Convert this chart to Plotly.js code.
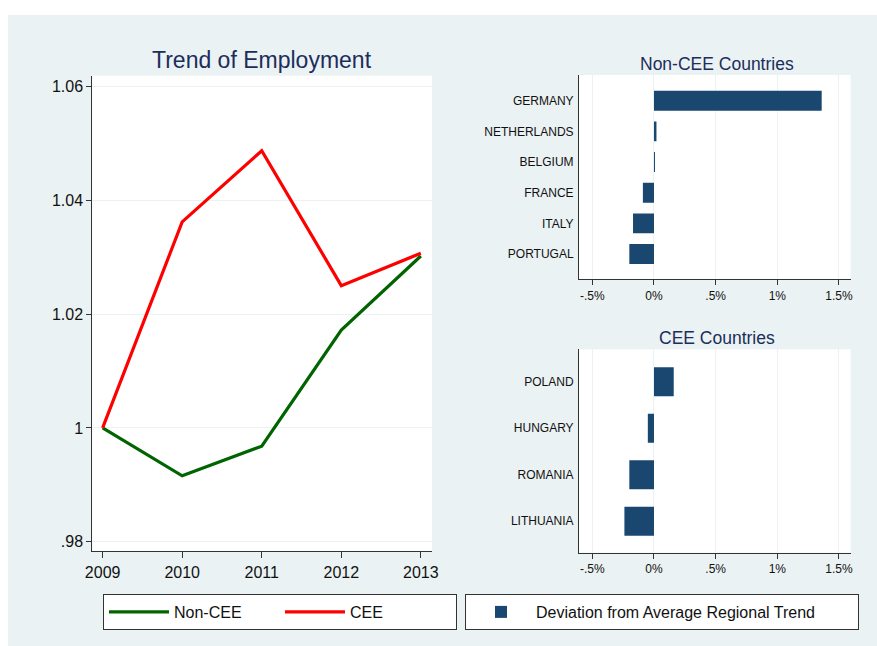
<!DOCTYPE html>
<html><head><meta charset="utf-8">
<script src="https://cdn.plot.ly/plotly-3.0.1.min.js"></script>
<style>html,body{margin:0;padding:0;background:#fff;width:877px;height:646px;overflow:hidden}
#chart{position:absolute;left:8px;top:15px;width:869px;height:631px}</style>
</head><body><div id="chart"></div>
<script>
// ---- data ----
const years = [2009, 2010, 2011, 2012, 2013];
const nonCEE = [1.0, 0.9916, 0.9968, 1.0172, 1.0302];
const cee = [1.0, 1.0362, 1.0487, 1.0250, 1.0307];
const nonCEECountries = ['GERMANY', 'NETHERLANDS', 'BELGIUM', 'FRANCE', 'ITALY', 'PORTUGAL'];
const nonCEEDeviation = [1.36, 0.02, 0.008, -0.09, -0.17, -0.20];
const ceeCountries = ['POLAND', 'HUNGARY', 'ROMANIA', 'LITHUANIA'];
const ceeDeviation = [0.16, -0.05, -0.20, -0.24];
const yTickVals = [0.98, 1, 1.02, 1.04, 1.06];
const yTickText = ['.98', '1', '1.02', '1.04', '1.06'];
const pctTickVals = [-0.5, 0, 0.5, 1, 1.5];
const pctTickText = ['-.5%', '0%', '.5%', '1%', '1.5%'];

const FONT = 'Liberation Sans, Arial, sans-serif';
const BG = '#eaf2f3';
const NAVY = '#1a476f';
const TITLE = '#1c2d5c';
const AXIS = '#333333';

const traces = [
  {x: years, y: nonCEE, type: 'scatter', mode: 'lines', name: 'Non-CEE',
   line: {color: '#006400', width: 3.2}, xaxis: 'x', yaxis: 'y', legend: 'legend'},
  {x: years, y: cee, type: 'scatter', mode: 'lines', name: 'CEE',
   line: {color: '#ff0000', width: 3.2}, xaxis: 'x', yaxis: 'y', legend: 'legend'},
  {x: nonCEEDeviation, y: nonCEECountries, type: 'bar', orientation: 'h',
   name: 'Deviation from Average Regional Trend', marker: {color: NAVY},
   width: 0.65, xaxis: 'x2', yaxis: 'y2', legend: 'legend2'},
  {x: ceeDeviation, y: ceeCountries, type: 'bar', orientation: 'h',
   name: 'Deviation from Average Regional Trend', marker: {color: NAVY},
   width: 0.62, xaxis: 'x3', yaxis: 'y3', showlegend: false, legend: 'legend2'}
];

const pctAxis = (anchor) => ({
  domain: [0.6571, 0.9697], anchor: anchor, range: [-0.608, 1.595],
  tickvals: pctTickVals, ticktext: pctTickText, ticks: 'outside', ticklen: 5,
  tickcolor: AXIS, showline: true, linecolor: AXIS, linewidth: 1,
  showgrid: true, gridcolor: BG, gridwidth: 1, zeroline: false,
  tickfont: {family: FONT, size: 12, color: '#111'}, fixedrange: true
});

const layout = {
  width: 869, height: 631,
  margin: {l: 0, r: 0, t: 0, b: 0},
  paper_bgcolor: BG, plot_bgcolor: '#ffffff',
  font: {family: FONT, color: '#111'},
  showlegend: true,
  xaxis: {domain: [0.0970, 0.4879], anchor: 'y', range: [2008.87, 2013.14],
    tickvals: years, ticks: 'outside', ticklen: 6, tickcolor: AXIS,
    showline: true, linecolor: AXIS, linewidth: 1, showgrid: false, zeroline: false,
    tickfont: {family: FONT, size: 16, color: '#111'}},
  yaxis: {domain: [0.1499, 0.9038], anchor: 'x', range: [0.97831, 1.06188],
    tickvals: yTickVals, ticktext: yTickText, ticks: 'outside', ticklen: 5, tickcolor: AXIS,
    showline: true, linecolor: AXIS, linewidth: 1, showgrid: true, gridcolor: BG, zeroline: false,
    tickfont: {family: FONT, size: 16, color: '#111'}},
  xaxis2: pctAxis('y2'),
  yaxis2: {domain: [0.5811, 0.9049], anchor: 'x2', type: 'category',
    categoryorder: 'array', categoryarray: nonCEECountries.slice().reverse(),
    range: [-0.825, 5.838], ticks: '', showline: true, linecolor: AXIS, linewidth: 1,
    showgrid: false, zeroline: false, ticklabelstandoff: 2,
    tickfont: {family: FONT, size: 12, color: '#111'}},
  xaxis3: pctAxis('y3'),
  yaxis3: {domain: [0.1479, 0.4702], anchor: 'x3', type: 'category',
    categoryorder: 'array', categoryarray: ceeCountries.slice().reverse(),
    range: [-0.675, 3.697], ticks: '', showline: true, linecolor: AXIS, linewidth: 1,
    showgrid: false, zeroline: false, ticklabelstandoff: 2,
    tickfont: {family: FONT, size: 12, color: '#111'}},
  legend: {x: 0.1093, y: 0.0824, xanchor: 'left', yanchor: 'top', orientation: 'h',
    bgcolor: '#ffffff', bordercolor: '#333', borderwidth: 1,
    font: {family: FONT, size: 16, color: '#111'}, entrywidth: 101, itemwidth: 60},
  legend2: {x: 0.5259, y: 0.0824, xanchor: 'left', yanchor: 'top', orientation: 'h',
    bgcolor: '#ffffff', bordercolor: '#333', borderwidth: 1,
    font: {family: FONT, size: 16, color: '#111'}, entrywidth: 317, itemwidth: 60},
  annotations: [
    {text: 'Trend of Employment', xref: 'paper', yref: 'paper', x: 0.2923, y: 0.9293,
     xanchor: 'center', yanchor: 'middle', showarrow: false,
     font: {family: FONT, size: 23, color: TITLE}},
    {text: 'Non-CEE Countries', xref: 'paper', yref: 'paper', x: 0.8159, y: 0.9223,
     xanchor: 'center', yanchor: 'middle', showarrow: false,
     font: {family: FONT, size: 17.5, color: TITLE}},
    {text: 'CEE Countries', xref: 'paper', yref: 'paper', x: 0.8155, y: 0.4876,
     xanchor: 'center', yanchor: 'middle', showarrow: false,
     font: {family: FONT, size: 17.5, color: TITLE}}
  ]
};

Plotly.newPlot('chart', traces, layout, {displayModeBar: false, staticPlot: true});
</script></body></html>
